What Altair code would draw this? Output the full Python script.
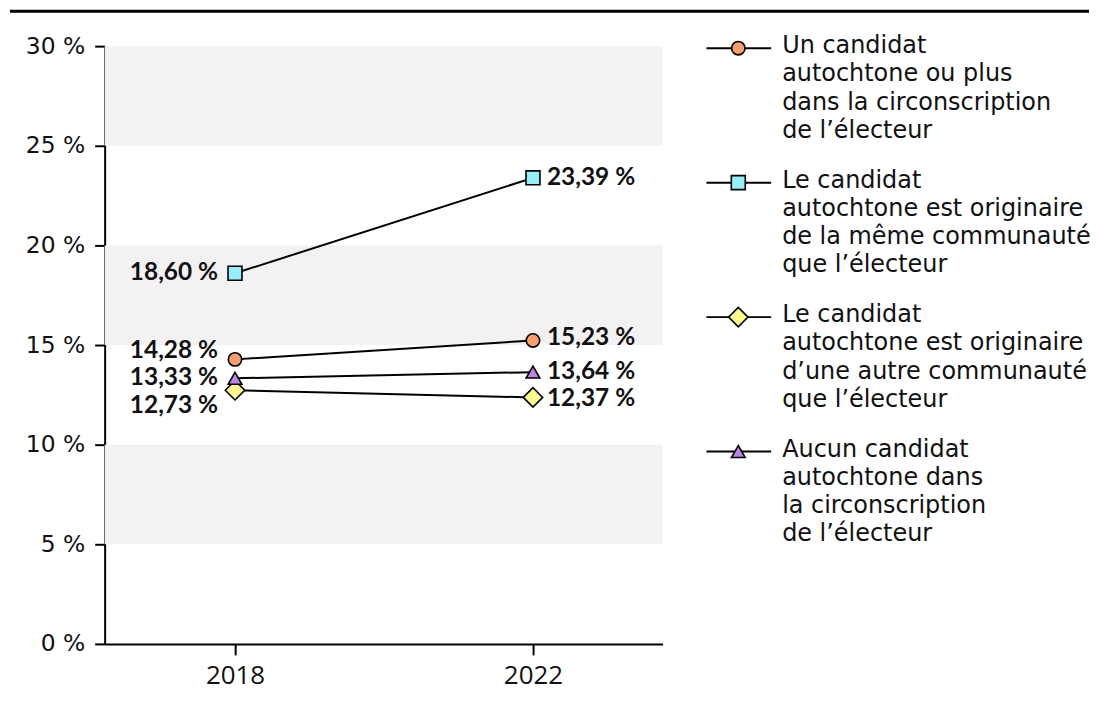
import altair as alt
import pandas as pd

# ---------------- data ----------------
years = [2018, 2022]
series_keys = ["un_ou_plus", "meme_comm", "autre_comm", "aucun"]
vals_2018 = [14.28, 18.60, 12.73, 13.33]
vals_2022 = [15.23, 23.39, 12.37, 13.64]
legend_labels = [
    "Un candidat\nautochtone ou plus\ndans la circonscription\nde l’électeur",
    "Le candidat\nautochtone est originaire\nde la même communauté\nque l’électeur",
    "Le candidat\nautochtone est originaire\nd’une autre communauté\nque l’électeur",
    "Aucun candidat\nautochtone dans\nla circonscription\nde l’électeur",
]
y_ticks = [0, 5, 10, 15, 20, 25, 30]
band_lo = [25, 15, 5]
band_hi = [30, 20, 10]

# ---------------- styles ----------------
shapes = ["circle", "square", "diamond", "triangle-up"]
fills = ["#F7A06C", "#96EEF9", "#FBF98A", "#BD85E8"]
sizes = [180, 196, 380, 190]
label_dy_2018 = [-8, 0, 16, 0]
label_dy_2022 = [-2, 0, 2, 0]
FONT = "Lato"
LEG_FONT = "DejaVu Sans"
INK = "#111111"

def fmt(v):
    return f"{v:.2f}".replace(".", ",") + "\u00a0%"

rows = []
for i, k in enumerate(series_keys):
    rows.append(dict(key=k, year=years[0], value=vals_2018[i], label=fmt(vals_2018[i]),
                     dy=label_dy_2018[i], side="left"))
    rows.append(dict(key=k, year=years[1], value=vals_2022[i], label=fmt(vals_2022[i]),
                     dy=label_dy_2022[i], side="right"))
df = pd.DataFrame(rows)
bands = pd.DataFrame({"lo": band_lo, "hi": band_hi})

shape_scale = alt.Scale(domain=series_keys, range=shapes)
fill_scale = alt.Scale(domain=series_keys, range=fills)

W, H = 560, 600
LW = 428
xscale = alt.Scale(domain=[2016.25, 2023.74], nice=False, zero=False)
yscale = alt.Scale(domain=[0, 30], nice=False)

xaxis = alt.Axis(values=years, format="d", title=None, grid=False, tickSize=11,
                 tickWidth=2, tickColor="black", domainColor="black", domainWidth=2,
                 labelFont="Open Sans", labelFontSize=26, labelColor=INK,
                 labelPadding=8)
yaxis = alt.Axis(values=y_ticks, labelExpr="datum.value + '\u00a0%'", title=None,
                 grid=False, tickSize=10, tickWidth=2, tickColor="black",
                 domainColor="black", domainWidth=2, labelFont=LEG_FONT,
                 labelFontSize=23.5, labelColor=INK, labelPadding=10, minExtent=95)

base = alt.Chart(df)

band_layer = alt.Chart(bands).mark_rect(color="#F3F1F2").encode(
    x=alt.value(0), x2=alt.value(W),
    y=alt.Y("lo:Q", scale=yscale, axis=yaxis), y2="hi:Q",
)

line_layer = base.mark_line(color="black", strokeWidth=2).encode(
    x=alt.X("year:Q", scale=xscale, axis=xaxis),
    y=alt.Y("value:Q", scale=yscale),
    detail="key:N",
)

point_layers = []
for k, s in zip(series_keys, sizes):
    point_layers.append(
        base.transform_filter(f"datum.key == '{k}'").mark_point(
            filled=True, stroke="black", strokeWidth=1.6, opacity=1, size=s
        ).encode(
            x=alt.X("year:Q", scale=xscale),
            y=alt.Y("value:Q", scale=yscale),
            shape=alt.Shape("key:N", scale=shape_scale, legend=None),
            fill=alt.Fill("key:N", scale=fill_scale, legend=None),
        )
    )

label_layers = []
for side, dys in (("left", label_dy_2018), ("right", label_dy_2022)):
    for d in sorted(set(dys)):
        label_layers.append(
            base.transform_filter(f"datum.side == '{side}' && datum.dy == {d}").mark_text(
                align="right" if side == "left" else "left", baseline="middle",
                dx=-17 if side == "left" else 14, dy=d, font=FONT, fontSize=24.5,
                fontWeight="bold", color=INK,
            ).encode(
                x=alt.X("year:Q", scale=xscale), y=alt.Y("value:Q", scale=yscale),
                text="label:N",
            )
        )

main = alt.layer(band_layer, line_layer, *point_layers, *label_layers).properties(
    width=W, height=H)

# ---------------- legend panel (with the top rule) ----------------
leg_df = pd.DataFrame({"key": series_keys, "idx": list(range(len(series_keys))),
                       "text": legend_labels})
leg_y = alt.Scale(domain=[-0.015, 4.43], reverse=True, nice=False, zero=False)
leg_base = alt.Chart(leg_df)
leg_rule = leg_base.mark_rule(color="black", strokeWidth=2).encode(
    x=alt.value(44), x2=alt.value(109), y=alt.Y("idx:Q", scale=leg_y, axis=None))
leg_pts = []
for k, s in zip(series_keys, sizes):
    leg_pts.append(
        leg_base.transform_filter(f"datum.key == '{k}'").mark_point(
            filled=True, stroke="black", strokeWidth=1.6, opacity=1, size=s
        ).encode(
            x=alt.value(76), y=alt.Y("idx:Q", scale=leg_y, axis=None),
            shape=alt.Shape("key:N", scale=shape_scale, legend=None),
            fill=alt.Fill("key:N", scale=fill_scale, legend=None),
        )
    )
leg_text = leg_base.mark_text(align="left", baseline="top", dy=-14, font=LEG_FONT,
                              fontSize=24, lineHeight=28.4, lineBreak="\n",
                              color=INK).encode(
    x=alt.value(120), y=alt.Y("idx:Q", scale=leg_y, axis=None), text="text:N")
top_rule = alt.Chart(pd.DataFrame({"a": [0]})).mark_rule(color="black", strokeWidth=3).encode(
    x=alt.value(-(W + 95)), x2=alt.value(LW), y=alt.value(-35))
legend = alt.layer(top_rule, leg_rule, *leg_pts, leg_text).properties(width=LW, height=H)

chart = alt.hconcat(main, legend, spacing=0, bounds="flush").properties(
    padding={"left": 0, "top": 0, "right": 0, "bottom": 8}).configure_view(stroke=None)

chart.save("out.html", embed_options={"renderer": "svg", "actions": False})
